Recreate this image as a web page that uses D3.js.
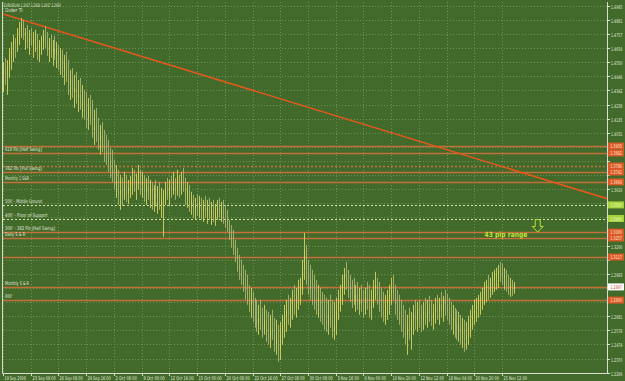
<!DOCTYPE html>
<html>
<head>
<meta charset="utf-8">
<script src="https://cdn.jsdelivr.net/npm/d3@7"></script>
<style>
html, body { margin: 0; padding: 0; background: #416a2b; }
svg { display: block; }
text { font-family: "DejaVu Sans", sans-serif; }
</style>
</head>
<body>
<div class="container"></div>
<script>
/* Params */
const width = 625;
const height = 381;
const plot = { left: 3, right: 607, top: 2, bottom: 373 };

/* Data (EURUSD H4) */
const symbolLine = 'EURUSD,H4  1.2917 1.2929 1.2917 1.2918';
const firstOpen = 1.4460;
const highs = [
  1.4551,1.4581,1.4566,1.4654,1.4698,1.4750,1.4728,1.4801,1.4845,1.4875,
  1.4860,1.4801,1.4823,1.4787,1.4801,1.4772,1.4787,1.4758,1.4713,1.4743,
  1.4787,1.4816,1.4772,1.4728,1.4750,1.4713,1.4743,1.4698,1.4676,1.4654,
  1.4640,1.4603,1.4625,1.4566,1.4493,1.4507,1.4456,1.4478,1.4419,1.4434,
  1.4382,1.4346,1.4331,1.4287,1.4309,1.4272,1.4199,1.4213,1.4140,1.4088,
  1.4110,1.4052,1.4015,1.3978,1.3919,1.3905,1.3831,1.3794,1.3758,1.3721,
  1.3699,1.3743,1.3721,1.3684,1.3714,1.3772,1.3758,1.3729,1.3794,1.3758,
  1.3743,1.3721,1.3699,1.3714,1.3684,1.3669,1.3647,1.3684,1.3640,1.3669,
  1.3625,1.3611,1.3669,1.3699,1.3684,1.3714,1.3743,1.3699,1.3758,1.3721,
  1.3743,1.3772,1.3699,1.3669,1.3647,1.3596,1.3574,1.3552,1.3581,1.3567,
  1.3552,1.3537,1.3567,1.3537,1.3552,1.3522,1.3537,1.3508,1.3537,1.3552,
  1.3522,1.3537,1.3500,1.3464,1.3390,1.3353,1.3317,1.3243,1.3185,1.3133,
  1.3096,1.3059,1.3023,1.2986,1.2912,1.2890,1.2861,1.2817,1.2802,1.2765,
  1.2802,1.2743,1.2765,1.2729,1.2714,1.2692,1.2729,1.2670,1.2655,1.2618,
  1.2640,1.2692,1.2765,1.2802,1.2839,1.2817,1.2876,1.2912,1.2890,1.2949,
  1.2964,1.3096,1.3294,1.3206,1.3096,1.3059,1.3023,1.2986,1.2949,1.2912,
  1.2890,1.2861,1.2839,1.2817,1.2802,1.2839,1.2802,1.2787,1.2817,1.2876,
  1.2912,1.2986,1.3037,1.3081,1.3023,1.2986,1.2949,1.2964,1.2912,1.2934,
  1.2890,1.2912,1.2876,1.2890,1.2934,1.2912,1.2876,1.2949,1.3008,1.2964,
  1.2934,1.2890,1.2861,1.2839,1.2876,1.2912,1.2964,1.2986,1.2912,1.2876,
  1.2839,1.2802,1.2765,1.2729,1.2692,1.2743,1.2714,1.2765,1.2802,1.2787,
  1.2802,1.2765,1.2787,1.2817,1.2802,1.2831,1.2802,1.2773,1.2817,1.2839,
  1.2817,1.2861,1.2831,1.2876,1.2846,1.2817,1.2787,1.2765,1.2743,1.2729,
  1.2714,1.2692,1.2670,1.2655,1.2640,1.2685,1.2729,1.2765,1.2802,1.2817,
  1.2839,1.2861,1.2890,1.2934,1.2949,1.2986,1.2964,1.3008,1.3023,1.3037,
  1.3059,1.3081,1.3067,1.3037,1.3023,1.2986,1.2964,1.2949,1.2934
];
const lows = [
  1.4331,1.4382,1.4309,1.4434,1.4493,1.4551,1.4581,1.4625,1.4676,1.4728,
  1.4713,1.4640,1.4654,1.4603,1.4669,1.4581,1.4625,1.4566,1.4551,1.4603,
  1.4640,1.4654,1.4596,1.4551,1.4581,1.4522,1.4566,1.4507,1.4493,1.4456,
  1.4434,1.4382,1.4404,1.4309,1.4272,1.4287,1.4213,1.4243,1.4184,1.4199,
  1.4140,1.4125,1.4066,1.4052,1.4088,1.3993,1.3941,1.3963,1.3905,1.3868,
  1.3890,1.3816,1.3794,1.3743,1.3699,1.3669,1.3611,1.3552,1.3500,1.3464,
  1.3493,1.3537,1.3522,1.3508,1.3552,1.3574,1.3596,1.3537,1.3611,1.3574,
  1.3552,1.3522,1.3500,1.3537,1.3479,1.3464,1.3449,1.3500,1.3435,1.3464,
  1.3405,1.3265,1.3500,1.3537,1.3493,1.3552,1.3574,1.3537,1.3567,1.3552,
  1.3574,1.3596,1.3500,1.3479,1.3449,1.3427,1.3405,1.3390,1.3420,1.3405,
  1.3390,1.3375,1.3405,1.3361,1.3390,1.3353,1.3375,1.3346,1.3390,1.3405,
  1.3375,1.3361,1.3331,1.3302,1.3243,1.3185,1.3133,1.3081,1.3008,1.2949,
  1.2912,1.2861,1.2802,1.2765,1.2714,1.2670,1.2640,1.2597,1.2567,1.2545,
  1.2582,1.2523,1.2545,1.2493,1.2471,1.2449,1.2508,1.2420,1.2398,1.2346,
  1.2361,1.2471,1.2523,1.2567,1.2618,1.2597,1.2655,1.2692,1.2670,1.2729,
  1.2765,1.2839,1.2949,1.2912,1.2839,1.2802,1.2765,1.2729,1.2692,1.2670,
  1.2640,1.2618,1.2582,1.2567,1.2545,1.2597,1.2523,1.2508,1.2545,1.2655,
  1.2714,1.2765,1.2839,1.2876,1.2817,1.2787,1.2743,1.2765,1.2714,1.2729,
  1.2692,1.2714,1.2670,1.2692,1.2729,1.2670,1.2655,1.2743,1.2802,1.2765,
  1.2714,1.2670,1.2640,1.2618,1.2655,1.2692,1.2765,1.2802,1.2692,1.2655,
  1.2618,1.2567,1.2523,1.2471,1.2398,1.2508,1.2435,1.2545,1.2582,1.2567,
  1.2597,1.2567,1.2582,1.2618,1.2597,1.2640,1.2611,1.2582,1.2626,1.2655,
  1.2618,1.2670,1.2640,1.2685,1.2655,1.2618,1.2582,1.2545,1.2523,1.2508,
  1.2493,1.2471,1.2449,1.2420,1.2435,1.2471,1.2523,1.2582,1.2618,1.2640,
  1.2670,1.2692,1.2729,1.2765,1.2787,1.2802,1.2817,1.2839,1.2861,1.2876,
  1.2890,1.2934,1.2912,1.2876,1.2861,1.2839,1.2824,1.2831,1.2846
];
const closes = [
  1.4493,1.4456,1.4529,1.4603,1.4640,1.4713,1.4676,1.4765,1.4787,1.4823,
  1.4750,1.4772,1.4698,1.4728,1.4684,1.4713,1.4743,1.4640,1.4676,1.4698,
  1.4750,1.4713,1.4640,1.4684,1.4625,1.4654,1.4603,1.4640,1.4551,1.4581,
  1.4493,1.4551,1.4434,1.4382,1.4419,1.4331,1.4360,1.4287,1.4309,1.4235,
  1.4272,1.4184,1.4140,1.4213,1.4125,1.4052,1.4088,1.3993,1.3978,1.4015,
  1.3919,1.3905,1.3846,1.3816,1.3758,1.3721,1.3647,1.3684,1.3574,1.3611,
  1.3552,1.3647,1.3574,1.3625,1.3669,1.3699,1.3625,1.3684,1.3743,1.3647,
  1.3684,1.3596,1.3647,1.3574,1.3625,1.3537,1.3574,1.3552,1.3611,1.3500,
  1.3537,1.3574,1.3625,1.3574,1.3647,1.3611,1.3684,1.3596,1.3714,1.3625,
  1.3684,1.3647,1.3552,1.3611,1.3500,1.3537,1.3464,1.3500,1.3479,1.3522,
  1.3464,1.3500,1.3449,1.3479,1.3427,1.3464,1.3405,1.3449,1.3479,1.3435,
  1.3464,1.3405,1.3390,1.3331,1.3280,1.3243,1.3170,1.3133,1.3059,1.3023,
  1.2964,1.2912,1.2876,1.2817,1.2765,1.2802,1.2692,1.2655,1.2618,1.2670,
  1.2618,1.2582,1.2655,1.2545,1.2523,1.2582,1.2545,1.2471,1.2508,1.2435,
  1.2545,1.2618,1.2670,1.2729,1.2692,1.2765,1.2802,1.2743,1.2839,1.2876,
  1.2912,1.3023,1.3170,1.2986,1.2949,1.2876,1.2839,1.2802,1.2765,1.2802,
  1.2729,1.2692,1.2655,1.2618,1.2692,1.2655,1.2582,1.2618,1.2729,1.2802,
  1.2839,1.2912,1.2986,1.2949,1.2912,1.2876,1.2839,1.2802,1.2839,1.2765,
  1.2802,1.2765,1.2729,1.2817,1.2802,1.2729,1.2765,1.2876,1.2912,1.2839,
  1.2802,1.2729,1.2692,1.2765,1.2802,1.2839,1.2876,1.2839,1.2765,1.2714,
  1.2655,1.2618,1.2582,1.2545,1.2618,1.2582,1.2655,1.2692,1.2655,1.2729,
  1.2692,1.2655,1.2714,1.2670,1.2729,1.2692,1.2655,1.2714,1.2743,1.2714,
  1.2765,1.2729,1.2802,1.2765,1.2714,1.2692,1.2655,1.2670,1.2618,1.2582,
  1.2618,1.2545,1.2582,1.2508,1.2545,1.2597,1.2655,1.2692,1.2729,1.2765,
  1.2802,1.2817,1.2839,1.2890,1.2912,1.2876,1.2934,1.2949,1.2978,1.2986,
  1.3023,1.3008,1.2964,1.2986,1.2912,1.2890,1.2912,1.2876,1.2918
];

// Time axis: one label every 14 bars
const labelEvery = 14;
const timeLabels = [
  '19 Sep 2008', '23 Sep 08:00', '26 Sep 08:00', '29 Sep 16:00', '2 Oct 08:00',
  '8 Oct 00:00', '12 Oct 16:00', '15 Oct 00:00', '20 Oct 08:00', '22 Oct 16:00',
  '27 Oct 08:00', '30 Oct 08:00', '3 Nov 16:00', '6 Nov 00:00', '10 Nov 20:00',
  '12 Nov 12:00', '18 Nov 04:00', '20 Nov 20:00', '25 Nov 12:00'
];

// Price axis ticks
const priceTicks = [
  1.4965, 1.4861, 1.4757, 1.4654, 1.4550, 1.4446, 1.4342, 1.4238, 1.4135,
  1.4031, 1.3927, 1.3823, 1.3719, 1.3616, 1.3512, 1.3408, 1.3304, 1.3200,
  1.3097, 1.2993, 1.2889, 1.2785, 1.2681, 1.2578, 1.2474, 1.2370, 1.2266
];

// Horizontal support / resistance levels
const levelPrices = [1.3933, 1.3882, 1.3786, 1.3742, 1.3669, 1.3500, 1.3400, 1.3300, 1.3257, 1.3117, 1.2897, 1.2800];
const levelNames = [
  '', '618 Fib [Half Swing]', '', '382 Fib [Full Swing]', 'Monthly 1 S&R',
  "500' - Middle Ground", "400' - Floor of Support", "300' - 382 Fib [Half Swing]",
  'Daily S & R', '', 'Monthly S & R', "800'"
];
const levelKinds = ['sr', 'sr', 'srDot', 'sr', 'sr', 'round', 'round', 'sr', 'sr', 'sr', 'monthly', 'sr'];

// Trend line anchors (bar index, price)
const trendBars = [0, 258];
const trendPrices = [1.4904, 1.3755];
const trendName = 'Outer Tl';

// Range annotation
const rangeText = '43 pip range';
const rangeTextBar = 254;
const rangeTextPrice = 1.3262;
const arrowBar = 270;
const arrowTopPrice = 1.3392;
const arrowTipPrice = 1.3300;

/* Colors */
const background = '#416a2b';
const frameColor = '#d8dcd0';
const gridColor = '#6f9056';
const textColor = '#e4e8dc';
const upColor = '#d6d262';
const downColor = '#a9b374';
const srColor = '#c4703a';
const roundColor = '#d4e4a8';
const trendColor = '#e2581e';
const lime = '#bde23c';
const boxColors = { sr: '#dc5a28', srDot: '#dc5a28', round: '#a6d23a', monthly: '#ffffff' };
const boxText = { sr: '#ffe8d8', srDot: '#ffe8d8', round: '#f4ffd8', monthly: '#c8441c' };

/* Helpers */
// Tiny terminal-style text, squeezed horizontally to the width seen in the screenshot
function smallText(g, x, y, str, size, charW, color, bold) {
  const t = g.append('text')
    .attr('font-size', size)
    .attr('fill', color)
    .attr('font-weight', bold ? 'bold' : null)
    .text(str);
  const natural = t.node().getComputedTextLength() || 1;
  const sx = (str.length * charW) / natural;
  t.attr('transform', `translate(${x},${y}) scale(${sx},1)`);
  return t;
}

function draw() {
  const bars = closes.map((c, i) => ({
    i,
    open: i === 0 ? firstOpen : closes[i - 1],
    high: highs[i],
    low: lows[i],
    close: c
  }));

  const x = d3.scaleLinear().domain([0, 305]).range([plot.left, plot.right]);
  const y = d3.scaleLinear().domain([1.4992, 1.2264]).range([plot.top, plot.bottom]);

  const svg = d3.select('.container')
    .append('svg')
    .attr('width', width)
    .attr('height', height)
    .style('background', background);

  svg.append('defs').append('clipPath').attr('id', 'clip')
    .append('rect')
    .attr('x', plot.left).attr('y', plot.top)
    .attr('width', plot.right - plot.left).attr('height', plot.bottom - plot.top);

  // Grid
  const grid = svg.append('g').attr('stroke', gridColor).attr('stroke-dasharray', '1,2').attr('stroke-width', 1);
  grid.selectAll('.hgrid').data(priceTicks).enter().append('line')
    .attr('x1', plot.left).attr('x2', plot.right)
    .attr('y1', d => Math.round(y(d)) + 0.5).attr('y2', d => Math.round(y(d)) + 0.5);
  grid.selectAll('.vgrid').data(timeLabels).enter().append('line')
    .attr('x1', (d, k) => Math.round(x(k * labelEvery)) + 0.5)
    .attr('x2', (d, k) => Math.round(x(k * labelEvery)) + 0.5)
    .attr('y1', plot.top).attr('y2', plot.bottom);

  const inner = svg.append('g').attr('clip-path', 'url(#clip)');

  // Levels
  const levels = levelPrices.map((p, k) => ({ p, name: levelNames[k], kind: levelKinds[k] }));
  inner.selectAll('.level').data(levels).enter().append('line')
    .attr('x1', plot.left).attr('x2', plot.right)
    .attr('y1', d => Math.round(y(d.p)) + 0.5).attr('y2', d => Math.round(y(d.p)) + 0.5)
    .attr('stroke', d => d.kind === 'round' ? roundColor : srColor)
    .attr('stroke-width', d => d.kind === 'round' ? 1 : 1.3)
    .attr('stroke-dasharray', d => d.kind === 'round' ? '2,2' : d.kind === 'srDot' ? '2,2' : null);

  // Trend line extended to the right edge
  const slope = (trendPrices[1] - trendPrices[0]) / (trendBars[1] - trendBars[0]);
  const endBar = x.domain()[1];
  inner.append('line')
    .attr('x1', x(trendBars[0])).attr('y1', y(trendPrices[0]))
    .attr('x2', x(endBar)).attr('y2', y(trendPrices[0] + slope * (endBar - trendBars[0])))
    .attr('stroke', trendColor)
    .attr('stroke-width', 1.6);

  // Candles (thin bars at this zoom)
  const candles = inner.selectAll('.bar').data(bars).enter().append('g').attr('class', 'bar');
  candles.append('line')
    .attr('x1', d => Math.round(x(d.i)) + 0.5).attr('x2', d => Math.round(x(d.i)) + 0.5)
    .attr('y1', d => y(d.high)).attr('y2', d => y(d.low))
    .attr('stroke', d => d.close >= d.open ? upColor : downColor)
    .attr('stroke-width', 0.9);
  candles.append('rect')
    .attr('x', d => Math.round(x(d.i)))
    .attr('width', 1)
    .attr('y', d => y(Math.max(d.open, d.close)))
    .attr('height', d => Math.max(1, Math.abs(y(d.open) - y(d.close))))
    .attr('fill', d => d.close >= d.open ? upColor : downColor);

  // Level names
  const labels = svg.append('g');
  levels.filter(d => d.name).forEach(d => {
    smallText(labels, plot.left + 2, y(d.p) - 2, d.name, 5, 1.85, textColor);
  });

  // Trend line name, header
  smallText(labels, 5, y(trendPrices[0]) - 1.5, trendName, 5.5, 2.2, textColor);
  smallText(labels, 4, 7, symbolLine, 4.8, 1.5, textColor);

  // Range annotation
  smallText(svg, x(rangeTextBar) - 21.5, y(rangeTextPrice), rangeText, 7.2, 43 / rangeText.length, lime, true);
  const ax = x(arrowBar), ay0 = y(arrowTopPrice), ay1 = y(arrowTipPrice);
  const neck = ay0 + (ay1 - ay0) * 0.55;
  svg.append('path')
    .attr('d', `M${ax - 2.5},${ay0}L${ax + 2.5},${ay0}L${ax + 2.5},${neck}L${ax + 5.5},${neck}L${ax},${ay1}L${ax - 5.5},${neck}L${ax - 2.5},${neck}Z`)
    .attr('fill', 'none')
    .attr('stroke', lime)
    .attr('stroke-width', 1);

  // Frame
  svg.append('path')
    .attr('d', `M${plot.left - 0.5},${plot.top}V${plot.bottom + 0.5}H${plot.right + 0.5}V${plot.top}`)
    .attr('fill', 'none')
    .attr('stroke', frameColor)
    .attr('stroke-width', 1);

  // Price axis: tick labels hidden where a level box sits on top of them
  const yAxis = svg.append('g');
  priceTicks.forEach(p => {
    const yy = Math.round(y(p)) + 0.5;
    yAxis.append('line').attr('x1', plot.right).attr('x2', plot.right + 3)
      .attr('y1', yy).attr('y2', yy).attr('stroke', frameColor);
    const covered = levelPrices.some(lp => Math.abs(y(lp) - yy) < 7);
    if (!covered) {
      smallText(yAxis, plot.right + 4, yy + 2, p.toFixed(4), 5, 1.9, textColor);
    }
  });

  // Level price boxes
  levels.forEach(d => {
    const yy = y(d.p);
    yAxis.append('rect')
      .attr('x', plot.right + 1).attr('y', yy - 3.5)
      .attr('width', 16).attr('height', 7)
      .attr('fill', boxColors[d.kind]);
    smallText(yAxis, plot.right + 3.5, yy + 2, d.p.toFixed(4), 5, 1.9, boxText[d.kind]);
  });

  // Time axis
  const xAxis = svg.append('g');
  timeLabels.forEach((lab, k) => {
    const xx = Math.round(x(k * labelEvery)) + 0.5;
    xAxis.append('line').attr('x1', xx).attr('x2', xx)
      .attr('y1', plot.bottom).attr('y2', plot.bottom + 3).attr('stroke', frameColor);
    smallText(xAxis, xx + 1, plot.bottom + 6.5, lab, 5, 1.95, textColor);
  });
}

draw();
</script>
</body>
</html>
